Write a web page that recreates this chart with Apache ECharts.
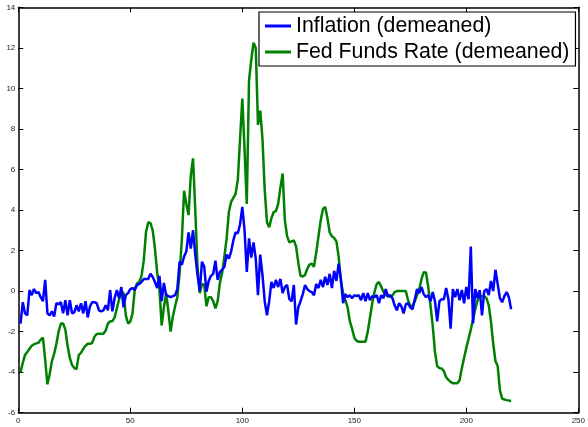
<!DOCTYPE html>
<html>
<head>
<meta charset="utf-8">
<script src="https://cdn.jsdelivr.net/npm/echarts@6/dist/echarts.min.js"></script>
<style>
html,body{margin:0;padding:0;background:#fff;}
#chart{width:588px;height:427px;}
</style>
</head>
<body>
<div id="chart"></div>
<script>
var seriesNames = ['Inflation (demeaned)', 'Fed Funds Rate (demeaned)'];
var xTicks = [0, 50, 100, 150, 200, 250];
var yTicks = [-6, -4, -2, 0, 2, 4, 6, 8, 10, 12, 14];

var inflation = [
 -1.6, -0.55, -1.1, -1.2, 0.05, -0.2, 0.1, -0.1, -0.05, -0.3,
 -0.5, 0.55, -1.1, -1.2, -1.0, -1.25, -0.6, -0.65, -0.55, -1.1,
 -0.45, -1.2, -0.45, -1.1, -1.05, -0.7, -1.0, -0.6, -1.1, -0.5,
 -1.3, -0.75, -0.55, -0.55, -0.6, -0.95, -1.0, -0.95, -0.7, -0.95,
 0.05, -1.0, -0.35, 0.05, -0.35, 0.2, -0.8, -0.2, -0.1, 0.1,
 0.15, 0.05, 0.3, 0.35, 0.45, 0.6, 0.6, 0.6, 0.85, 0.7,
 0.45, 0.15, 0.75, -0.5, 0.4, -0.2, -0.25, -0.3, -0.25, -0.2,
 0.1, 1.45, 1.3, 1.7, 1.95, 2.9, 2.1, 3.0, 1.8, 0.8,
 0.0, 1.45, 1.2, -0.03, 0.5, 0.75, 0.85, 1.5, 0.55, 0.95,
 1.05, 1.2, 1.8, 1.6, 1.95, 2.5, 2.9, 2.85, 3.3, 4.15,
 3.0, 0.95, 2.6, 1.65, 2.4, 1.6, -0.2, 1.8, 0.8, -0.5,
 -1.2, -0.5, 0.45, 0.15, 0.55, 0.2, 0.6, -0.1, 0.2, 0.3,
 -0.4, -0.5, 0.3, -1.65, -0.8, -0.5, -0.15, 0.3, 0.1, 0.0,
 -0.05, -0.2, 0.35, 0.15, 0.55, 0.2, 0.7, 0.3, 0.85, 0.15,
 1.0, 0.5, 1.35, 0.6, -0.6, -0.15, -0.3, -0.2, -0.35, -0.2,
 -0.25, -0.2, -0.45, -0.1, -0.5, -0.1, -0.45, -0.25, -0.3, -0.2,
 -0.6, -0.2, -0.35, 0.1, -0.25, -0.2, -0.35, -0.7, -0.95, -0.6,
 -0.75, -1.1, -0.65, -0.6, -0.8, -0.9, -0.4, 0.1, -0.1, 0.2,
 -0.15, -0.3, -0.2, -0.5, -0.05, -0.5, -1.5, -0.5, -0.4, -0.4,
 0.15, -0.4, -1.85, 0.1, -0.3, 0.1, -0.45, 0.05, -0.6, 0.2,
 -0.4, 2.2, -1.6, 0.1, -0.35, 0.05, -1.2, 0.0, 0.1, -0.2,
 0.5, 0.0, 1.05, 0.35, -0.35, -0.55, -0.25, -0.05, -0.3, -0.9
];

var fedFunds = [
 -4.0, -3.55, -3.15, -3.0, -2.85, -2.7, -2.62, -2.58, -2.55, -2.4,
 -2.3, -3.4, -4.6, -4.1, -3.45, -3.1, -2.6, -2.0, -1.6, -1.6,
 -1.9, -2.7, -3.3, -3.65, -3.8, -3.85, -3.15, -3.05, -2.85, -2.7,
 -2.6, -2.6, -2.55, -2.25, -2.12, -2.1, -2.1, -2.1, -1.95, -1.6,
 -1.5, -1.48, -1.3, -0.85, -0.4, 0.0, -0.1, -1.2, -1.6, -1.5,
 -1.1, 0.1, 0.38, 0.45, 0.75, 1.5, 2.9, 3.4, 3.35, 3.0,
 2.1, 0.9, 0.1, -1.7, -0.8, -0.1, -1.0, -2.0, -1.25, -0.75,
 -0.3, 0.9, 2.5, 4.95, 4.3, 3.75, 5.7, 6.55, 4.0, 1.2,
 -0.1, 0.35, 0.3, -0.75, -0.3, -0.3, -0.5, -0.85, -0.5, 0.4,
 0.9, 1.7, 2.6, 3.9, 4.4, 4.6, 4.8, 5.5, 7.5, 9.5,
 7.0, 4.3, 10.4, 11.4, 12.25, 12.0, 8.2, 8.9, 7.5, 5.0,
 3.4, 3.15, 3.6, 3.9, 3.95, 4.3, 5.1, 5.8, 3.5, 2.7,
 2.4, 2.45, 2.5, 2.2, 1.4, 0.75, 0.72, 0.8, 1.1, 1.3,
 1.35, 1.2, 1.9, 2.7, 3.5, 4.05, 4.15, 3.6, 2.9, 2.7,
 2.62, 2.45, 1.7, 0.5, -0.1, -0.45, -0.8, -1.5, -1.85, -2.3,
 -2.45, -2.5, -2.5, -2.5, -2.5, -2.0, -1.3, -0.6, -0.05, 0.35,
 0.45, 0.22, -0.03, -0.17, -0.27, -0.27, -0.22, -0.05, 0.0, 0.0,
 0.0, 0.0, 0.0, -0.45, -0.75, -0.72, -0.5, -0.2, 0.1, 0.6,
 0.93, 0.92, 0.2, -0.7, -1.7, -3.0, -3.7, -3.8, -3.82, -3.95,
 -4.25, -4.38, -4.48, -4.55, -4.55, -4.55, -4.4, -3.8, -3.3, -2.8,
 -2.35, -1.9, -1.4, -0.9, -0.45, -0.28, -0.25, -0.25, -0.35, -0.7,
 -1.5, -2.6, -3.45, -3.7, -4.9, -5.3, -5.35, -5.38, -5.4, -5.42
];

function pairs(arr) {
  return arr.map(function (v, i) { return [i + 1, v]; });
}

var FONT = '"Liberation Sans", Arial, Helvetica, sans-serif';

function axisBase(show, pos, ticks) {
  return {
    type: 'value',
    position: pos,
    min: ticks[0],
    max: ticks[ticks.length - 1],
    interval: ticks[1] - ticks[0],
    axisLine: { show: true, onZero: false, lineStyle: { color: '#000', width: 1.5 } },
    axisTick: { show: true, inside: true, length: 5, lineStyle: { color: '#000', width: 1 } },
    axisLabel: { show: show, fontSize: 8, color: '#222', fontFamily: FONT, margin: pos === 'bottom' ? 4 : 3 },
    splitLine: { show: false }
  };
}

var chart = echarts.init(document.getElementById('chart'), null, { renderer: 'canvas' });
chart.setOption({
  animation: false,
  backgroundColor: '#fff',
  grid: { left: 18.3, right: 8.5, top: 7.3, bottom: 14.3, containLabel: false },
  xAxis: [axisBase(true, 'bottom', xTicks), axisBase(false, 'top', xTicks)],
  yAxis: [axisBase(true, 'left', yTicks), axisBase(false, 'right', yTicks)],
  legend: {
    data: seriesNames,
    orient: 'vertical',
    left: 259,
    top: 12,
    padding: [1, 6, 1, 6],
    itemGap: 0,
    itemWidth: 26,
    itemHeight: 3,
    icon: 'rect',
    borderColor: '#000',
    borderWidth: 1.2,
    backgroundColor: '#fff',
    textStyle: { fontSize: 21.3, fontFamily: FONT, color: '#000', lineHeight: 26 }
  },
  series: [
    {
      name: seriesNames[0], type: 'line', xAxisIndex: 0, yAxisIndex: 0,
      data: pairs(inflation), symbol: 'none', showSymbol: false,
      lineStyle: { color: '#0000ff', width: 2.5 }, itemStyle: { color: '#0000ff' }, z: 3
    },
    {
      name: seriesNames[1], type: 'line', xAxisIndex: 0, yAxisIndex: 0,
      data: pairs(fedFunds), symbol: 'none', showSymbol: false,
      lineStyle: { color: '#008000', width: 2.5 }, itemStyle: { color: '#008000' }, z: 2
    }
  ]
});
</script>
</body>
</html>
